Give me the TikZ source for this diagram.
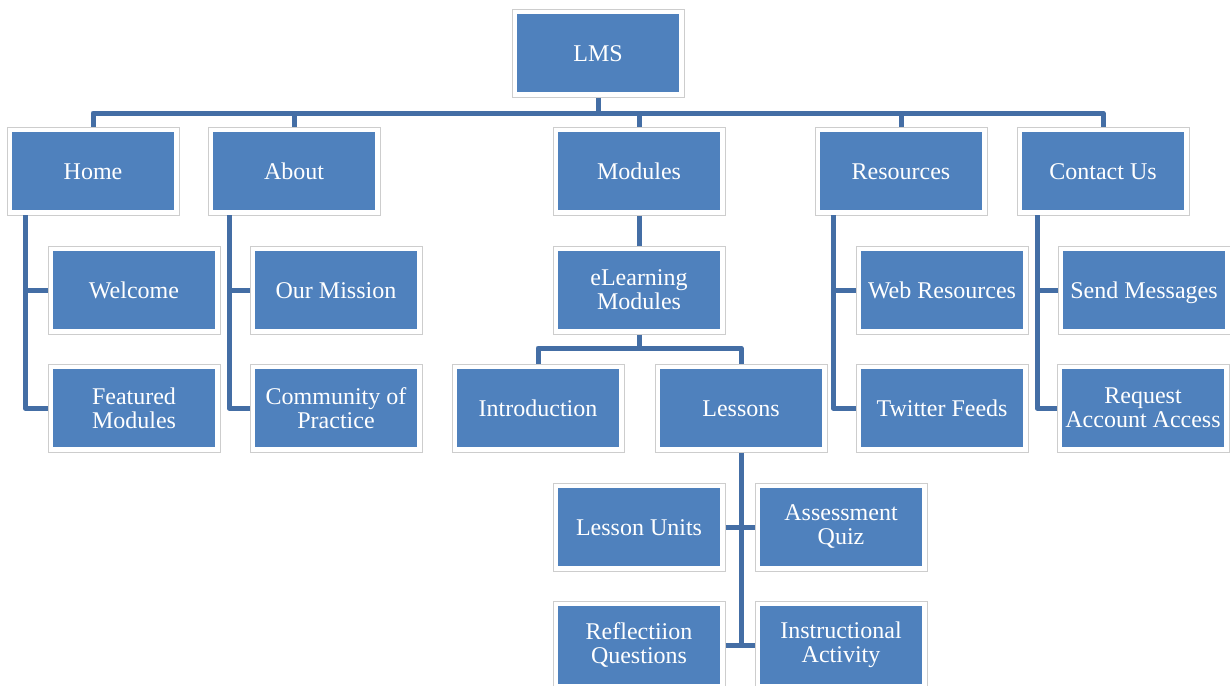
\documentclass[tikz,border=0pt]{standalone}
\usepackage{fontspec}
\setmainfont{Liberation Serif}
\definecolor{boxblue}{RGB}{79,129,189}
\definecolor{linkblue}{RGB}{68,110,165}
\definecolor{rimgray}{RGB}{205,205,205}
\tikzset{
  outerbox/.style={draw=rimgray, line width=0.5pt, fill=white, minimum width=86pt, minimum height=44pt, inner sep=0pt},
  bluebox/.style={fill=boxblue, minimum width=81pt, minimum height=39pt, inner sep=1pt, text=white, align=center,
    font=\fontsize{12}{12}\selectfont},
  oneline/.style={bluebox, text height=10pt, text depth=2pt},
  conn/.style={draw=linkblue, line width=2.5pt, line join=round}
}
\newcommand\orgbox[4]{%
  \node[outerbox] (#1o) at (#2,#3) {};
  \node[oneline] (#1) at (#2,#3) {#4};
}
\newcommand\orgboxtwo[4]{%
  \node[outerbox] (#1o) at (#2,#3) {};
  \node[bluebox] (#1) at (#2,#3) {#4};
}
\begin{document}
\begin{tikzpicture}[x=0.5pt,y=-0.5pt]
\useasboundingbox (0,0) rectangle (1230,685);
\clip (0,0) rectangle (1230,685);
% named junction coordinates
\coordinate (bar) at (598,113);
\coordinate (hs) at (25,215);
\coordinate (as) at (229,215);
\coordinate (rs) at (833,215);
\coordinate (cs) at (1037,215);
\coordinate (elbar) at (639,348);
\coordinate (lsend) at (741,645);
% boxes
\orgbox{LMS}{598}{53}{LMS}
\orgbox{Home}{93}{171}{Home}
\orgbox{About}{294}{171}{About}
\orgbox{Modules}{639}{171}{Modules}
\orgbox{Resources}{901}{171}{Resources}
\orgbox{Contact}{1103}{171}{Contact Us}
\orgbox{Welcome}{134}{290}{Welcome}
\orgboxtwo{Featured}{134}{408}{Featured\\Modules}
\orgbox{Mission}{336}{290}{Our Mission}
\orgboxtwo{Community}{336}{408}{Community of\\Practice}
\orgboxtwo{eLearning}{639}{290}{eLearning\\Modules}
\orgbox{Intro}{538}{408}{Introduction}
\orgbox{Lessons}{741}{408}{Lessons}
\orgbox{Web}{942}{290}{Web Resources}
\orgbox{Twitter}{942}{408}{Twitter Feeds}
\orgbox{Send}{1144}{290}{Send Messages}
\orgboxtwo{Request}{1143}{408}{Request\\Account Access}
\orgbox{Units}{639}{527}{Lesson Units}
\orgboxtwo{Assess}{841}{527}{Assessment\\Quiz}
\orgboxtwo{Reflect}{639}{645}{Reflectiion\\Questions}
\orgboxtwo{Instr}{841}{645}{Instructional\\Activity}
% connectors
\draw[conn] (LMSo.south) -- (bar);
\draw[conn] (Homeo.north) |- (bar);
\draw[conn] (Abouto.north) |- (bar);
\draw[conn] (Moduleso.north) |- (bar);
\draw[conn] (Resourceso.north) |- (bar);
\draw[conn] (Contacto.north) |- (bar);
\draw[conn] (hs) |- (Welcomeo.west);
\draw[conn] (hs) |- (Featuredo.west);
\draw[conn] (as) |- (Missiono.west);
\draw[conn] (as) |- (Communityo.west);
\draw[conn] (rs) |- (Webo.west);
\draw[conn] (rs) |- (Twittero.west);
\draw[conn] (cs) |- (Sendo.west);
\draw[conn] (cs) |- (Requesto.west);
\draw[conn] (Moduleso.south) -- (eLearningo.north);
\draw[conn] (eLearningo.south) -- (elbar);
\draw[conn] (Introo.north) |- (elbar);
\draw[conn] (Lessonso.north) |- (elbar);
\draw[conn] (Lessonso.south) -- (lsend);
\draw[conn] (Unitso.east) -- (Assesso.west);
\draw[conn] (Reflecto.east) -- (Instro.west);
\end{tikzpicture}
\end{document}
